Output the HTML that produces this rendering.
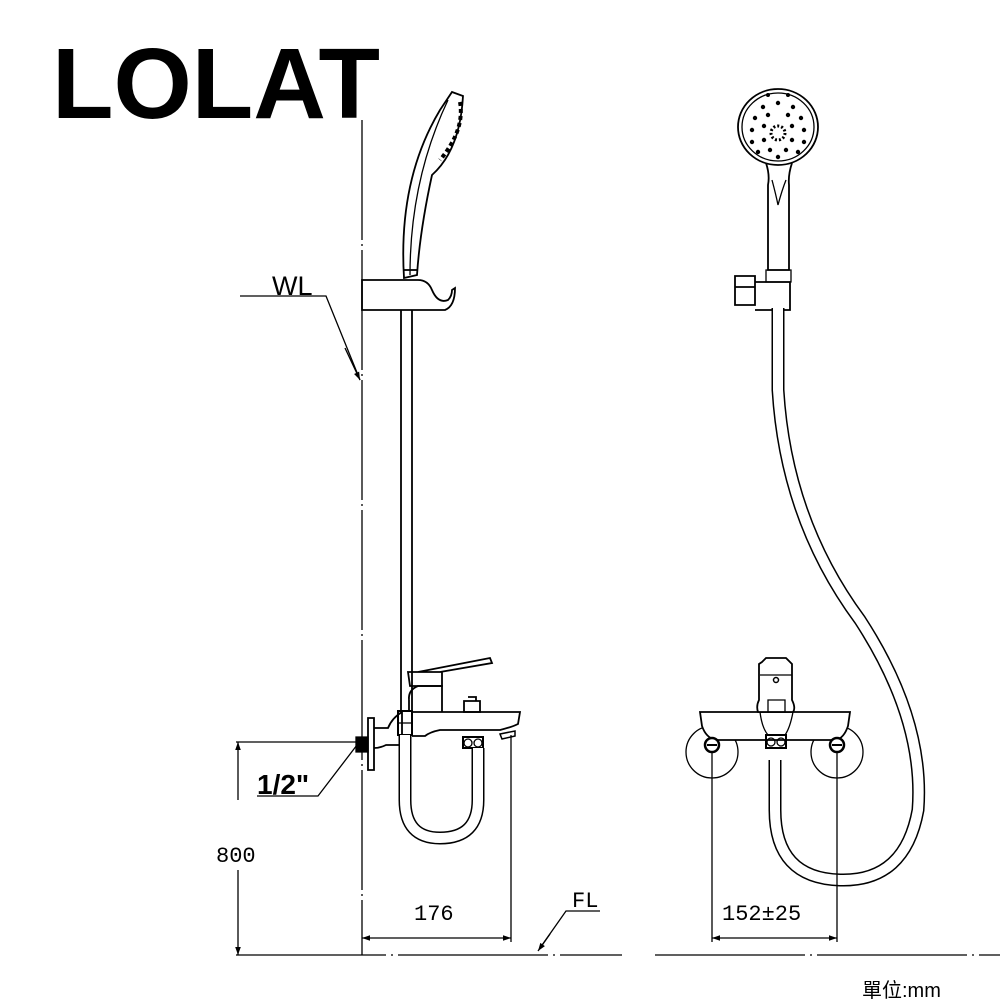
<!DOCTYPE html>
<html><head><meta charset="utf-8"><style>
html,body{margin:0;padding:0;background:#fff;}
svg{display:block;}
.s{font-family:"Liberation Sans","Noto Sans CJK TC",sans-serif;}
.m{font-family:"Liberation Mono",monospace;}
</style></head><body>
<svg width="1000" height="1000" viewBox="0 0 1000 1000" xmlns="http://www.w3.org/2000/svg">
<defs>
<marker id="ar" viewBox="0 0 10 10" refX="10" refY="5" markerWidth="12" markerHeight="8" orient="auto-start-reverse" markerUnits="userSpaceOnUse"><path d="M0,1.5 L10,5 L0,8.5z" fill="#000"/></marker>
</defs>
<rect width="1000" height="1000" fill="#fff"/>
<text class="s" x="52" y="118" font-size="100" font-weight="bold" textLength="328" lengthAdjust="spacingAndGlyphs" fill="#000">LOLAT</text>

<g stroke="#000" fill="none" stroke-width="1.3">
<path d="M362 120 V955" stroke-dasharray="120,4,2,4"/>
<path d="M236 955 H622 M655 955 H1000" stroke-dasharray="150,5,2,5"/>

<path d="M240 296 H326 L360 380" />
<path d="M345 348 L360 380" marker-end="url(#ar)"/>

<path d="M401 310 V712 M412 310 V712" stroke-width="1.8"/>
<path d="M362 280 H418 Q428 280 432 290 Q438 304 448 300 Q452 296 452 290 L455 288 Q455 306 445 310 H362 Z" stroke-width="1.8"/>
<path d="M404 278 Q398 180 440 110 L452 92 L463 96 Q460 150 432 175 Q420 230 417 275 Z" stroke-width="1.8"/>
<path d="M410 275 Q410 180 448 100" stroke-width="1.3"/>
<path d="M404 270 H417" stroke-width="1.8"/>
<path d="M460 102 Q465 130 440 160" stroke-width="4" stroke-dasharray="4,3"/>

<path d="M368 718 H374 V770 H368 Z" stroke-width="1.8"/>
<path d="M356 737 H368 V752 H356 Z" fill="#000"/>
<path d="M374 728 H388 Q392 718 402 712 V745 H386 Q380 748 374 748" stroke-width="1.8"/>
<path d="M398 711 H412 V735 H398 Z" stroke-width="2"/>
<path d="M398 723 H412"/>
<path d="M412 712 H520 L518 724 Q512 727 500 730 H440 Q430 732 425 736 H412" stroke-width="1.8"/>
<path d="M409 700 Q408 690 418 686 H442 V712 M409 700 L409 711" stroke-width="1.8"/>
<path d="M408 672 H442 V686 L410 686 Z M418 672 L490 658 L492 663 L440 672" stroke-width="1.8"/>
<path d="M464 701 H480 V712 H464 Z M468 697 H476 V701" stroke-width="1.8"/>
<path d="M463 737 H483 V748 H463 Z" stroke-width="2"/>
<circle cx="468" cy="743" r="4"/><circle cx="478" cy="743" r="4"/>
<path d="M500 734 L515 731 V736 L502 739 Z" stroke-width="1.5"/>
<path d="M405 735 V800 Q405 838 440 838 Q478 838 478 800 V748" stroke="#000" stroke-width="13"/>
<path d="M405 735 V800 Q405 838 440 838 Q478 838 478 800 V748" stroke="#fff" stroke-width="10"/>

<path d="M236 742 H356"/>
<path d="M238 800 V742" marker-end="url(#ar)"/>
<path d="M238 870 V955" marker-end="url(#ar)"/>
<path d="M257 796 H318 L357 745" stroke-width="1.3"/>
<path d="M511 735 V942"/>
<path d="M362 938 H511" marker-start="url(#ar)" marker-end="url(#ar)"/>
<path d="M600 911 H566 L540 948"/>
<path d="M550 934 L538 951" marker-end="url(#ar)"/>

<ellipse cx="778" cy="127" rx="40" ry="38" stroke-width="1.8"/>
<ellipse cx="778" cy="127" rx="36" ry="34" stroke-width="1.3"/>
<circle cx="778" cy="133" r="7" stroke-width="3" stroke-dasharray="2,2"/>
<path d="M766 163 Q770 175 768 185 V270 H789 V185 Q788 175 792 163" stroke-width="1.8"/>
<path d="M772 180 Q776 195 778 205 Q782 190 786 180" />
<path d="M766 270 H791 V282 H766 Z"/>
<path d="M735 276 H755 V305 H735 Z M735 287 H755" stroke-width="1.8"/>
<path d="M755 282 H790 V310 H755" stroke-width="1.8"/>
<path d="M778 308 V390 Q786 520 860 620 Q925 720 918 810 Q905 882 840 880 Q775 878 775 810 V760" stroke="#000" stroke-width="13"/>
<path d="M778 308 V390 Q786 520 860 620 Q925 720 918 810 Q905 882 840 880 Q775 878 775 810 V760" stroke="#fff" stroke-width="10"/>

<circle cx="712" cy="752" r="26"/>
<circle cx="837" cy="752" r="26"/>
<path d="M700 712 H850 L848 726 Q844 738 836 740 H716 Q706 738 702 726 Z" fill="#fff" stroke-width="1.8"/>
<circle cx="712" cy="745" r="7" fill="#fff" stroke-width="2.5"/><path d="M707 745 H717" stroke-width="2"/>
<circle cx="837" cy="745" r="7" fill="#fff" stroke-width="2.5"/><path d="M832 745 H842" stroke-width="2"/>
<path d="M762 662 L766 658 H786 L792 664 V700 Q796 708 793 712 H758 Q756 706 759 700 V664 Z" fill="#fff" stroke-width="1.8"/>
<path d="M760 675 H792"/>
<circle cx="776" cy="680" r="2.5" stroke-width="1.5"/>
<path d="M768 700 H785 V712 H768 Z"/>
<path d="M760 712 Q762 728 768 735 H785 Q790 728 793 712" />
<path d="M766 735 H786 V748 H766 Z" stroke-width="2"/>
<circle cx="771" cy="742" r="4"/><circle cx="781" cy="742" r="4"/>
<path d="M712 752 V942 M837 752 V942"/>
<path d="M712 938 H837" marker-start="url(#ar)" marker-end="url(#ar)"/>
</g>
<g fill="#000">
<circle cx="763" cy="107" r="2.2"/><circle cx="778" cy="103" r="2.2"/><circle cx="793" cy="107" r="2.2"/>
<circle cx="755" cy="118" r="2.2"/><circle cx="768" cy="115" r="2.2"/><circle cx="788" cy="115" r="2.2"/><circle cx="801" cy="118" r="2.2"/>
<circle cx="752" cy="130" r="2.2"/><circle cx="764" cy="126" r="2.2"/><circle cx="792" cy="126" r="2.2"/><circle cx="804" cy="130" r="2.2"/>
<circle cx="752" cy="142" r="2.2"/><circle cx="764" cy="140" r="2.2"/><circle cx="792" cy="140" r="2.2"/><circle cx="804" cy="142" r="2.2"/>
<circle cx="758" cy="152" r="2.2"/><circle cx="770" cy="150" r="2.2"/><circle cx="786" cy="150" r="2.2"/><circle cx="798" cy="152" r="2.2"/>
<circle cx="778" cy="157" r="2.2"/><circle cx="768" cy="95" r="2"/><circle cx="788" cy="95" r="2"/>
</g>

<g fill="#000">
<text class="s" x="272" y="295" font-size="27">WL</text>
<text class="s" x="257" y="794" font-size="28" font-weight="bold">1/2"</text>
<text class="m" x="216" y="862" font-size="22">800</text>
<text class="m" x="414" y="920" font-size="22">176</text>
<text class="m" x="572" y="907" font-size="22">FL</text>
<text class="m" x="722" y="920" font-size="22">152±25</text>
<text class="s" x="862" y="997" font-size="20">單位:mm</text>
</g>
</svg>
</body></html>
